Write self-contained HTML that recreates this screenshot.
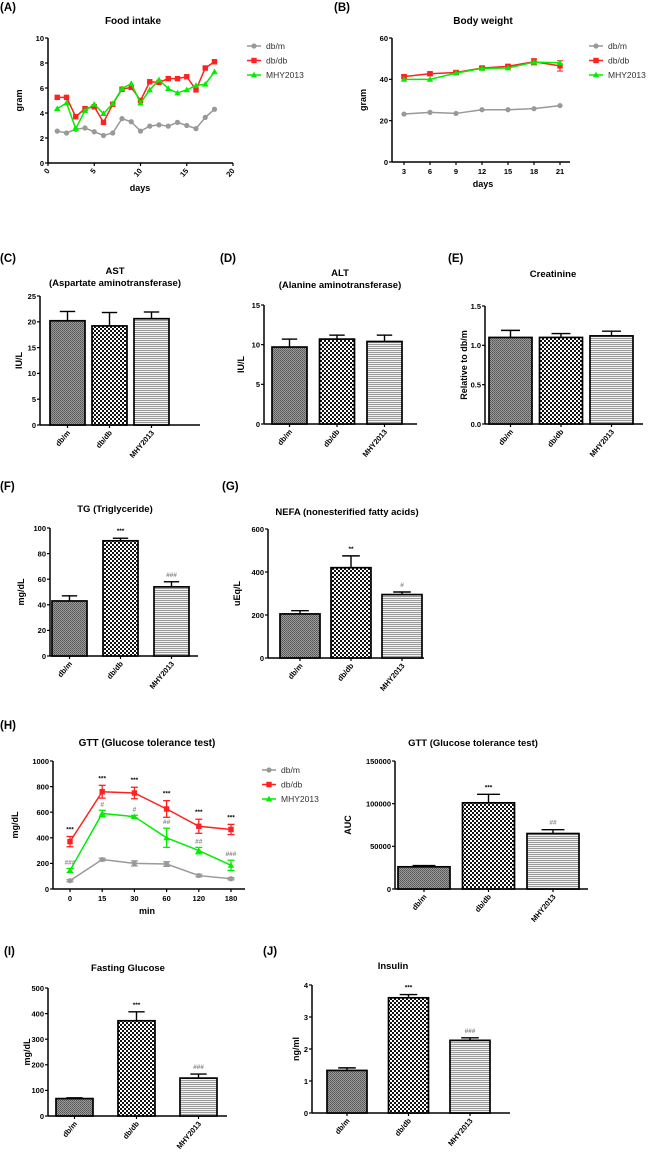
<!DOCTYPE html>
<html><head><meta charset="utf-8">
<style>
html,body{margin:0;padding:0;background:#fff;}
svg{display:block;font-family:"Liberation Sans",Arial,sans-serif;font-weight:bold;}
</style></head>
<body>
<svg id="fig" width="650" height="1160" viewBox="0 0 650 1160" xmlns="http://www.w3.org/2000/svg">
<defs>
<pattern id="pDbm" width="2" height="2" patternUnits="userSpaceOnUse"><rect width="2" height="2" fill="#9a9a9a"/><rect width="1" height="1" fill="#555"/><rect x="1" y="1" width="1" height="1" fill="#666"/></pattern>
<pattern id="pDbdb" width="4" height="4" patternUnits="userSpaceOnUse"><rect width="4" height="4" fill="#fff"/><rect width="2" height="2" fill="#111"/><rect x="2" y="2" width="2" height="2" fill="#111"/></pattern>
<pattern id="pMhy" width="3" height="2" patternUnits="userSpaceOnUse"><rect width="3" height="2" fill="#f2f2f2"/><rect width="3" height="1" fill="#9a9a9a"/></pattern>
</defs>
</svg>
<script>
// ---------- data ----------
const groups = ['db/m','db/db','MHY2013'];
const foodDays = [1,2,3,4,5,6,7,8,9,10,11,12,13,14,15,16,17,18];
const foodDbm = [2.55,2.4,2.7,2.8,2.5,2.2,2.4,3.55,3.3,2.55,2.95,3.05,2.95,3.25,3.0,2.75,3.65,4.3];
const foodDbdb = [5.25,5.25,3.7,4.35,4.5,3.25,4.7,5.9,6.05,5.0,6.5,6.45,6.75,6.75,6.9,5.85,7.6,8.1];
const foodMhy = [4.35,4.8,2.75,4.2,4.7,3.95,4.75,5.95,6.35,4.8,5.85,6.65,5.95,5.6,5.85,6.2,6.3,7.3];
const foodXTicks = [0,5,10,15,20];
const foodYTicks = [0,2,4,6,8,10];
const bwDays = ['3','6','9','12','15','18','21'];
const bwDbm = [23.2,24,23.5,25.3,25.3,25.8,27.3];
const bwDbdb = [41.3,42.7,43.3,45.5,46.3,48.5,46.5];
const bwDbdbErr = [0.8,0.8,0.8,0.8,0.8,1.5,2.5];
const bwMhy = [40,40,43,45.3,45.5,48.3,48];
const bwYTicks = [0,20,40,60];
const astVals = [20.2,19.2,20.6], astErr = [1.8,2.6,1.3], astTicks = [0,5,10,15,20,25];
const altVals = [9.7,10.7,10.4], altErr = [1.0,0.5,0.8], altTicks = [0,5,10,15];
const creVals = [1.1,1.1,1.12], creErr = [0.09,0.05,0.06], creTicks = [0,0.5,1.0,1.5];
const tgVals = [43,90,54], tgErr = [4,2,4], tgTicks = [0,20,40,60,80,100], tgMarks = ['','***','###'];
const nefaVals = [205,420,295], nefaErr = [15,55,12], nefaTicks = [0,200,400,600], nefaMarks = ['','**','#'];
const gttMin = ['0','15','30','60','120','180'];
const gttDbm = [65,230,200,195,105,80], gttDbmErr = [8,10,20,18,10,8];
const gttDbdb = [370,760,750,625,490,465], gttDbdbErr = [40,50,45,65,55,40];
const gttMhy = [145,590,565,400,300,185], gttMhyErr = [15,25,10,75,25,40];
const gttStars = ['***','***','***','***','***','***'];
const gttHash = ['###','#','#','##','##','###'];
const gttYTicks = [0,200,400,600,800,1000];
const aucVals = [26000,101000,65000], aucErr = [1500,10000,4500], aucTicks = [0,50000,100000,150000], aucMarks = ['','***','##'];
const fgVals = [68,372,148], fgErr = [3,35,16], fgTicks = [0,100,200,300,400,500], fgMarks = ['','***','###'];
const insVals = [1.33,3.6,2.27], insErr = [0.08,0.1,0.08], insTicks = [0,1,2,3,4], insMarks = ['','***','###'];

// ---------- helpers ----------
const NS='http://www.w3.org/2000/svg';
const svg=document.getElementById('fig');
function el(tag,attrs,parent,txt){const e=document.createElementNS(NS,tag);for(const k in attrs)e.setAttribute(k,attrs[k]);if(txt!==undefined)e.textContent=txt;(parent||svg).appendChild(e);return e;}
function txt(x,y,s,size,parent,anchor,fill){return el('text',{x:x,y:y,'font-size':size,'text-anchor':anchor||'middle',fill:fill||'#000'},parent,s);}
function yAxis(g,ax,y0,yT,ticks,max,label,labelX,dec){
  const sy=v=>y0-(v/max)*(y0-yT);
  const a=el('line',{x1:ax,y1:y0,x2:ax,y2:yT,stroke:'#000','stroke-width':1.5},g);
  
  ticks.forEach(t=>{el('line',{x1:ax-3,y1:sy(t),x2:ax,y2:sy(t),stroke:'#000','stroke-width':1.2},g);
    const tl=txt(ax-4,sy(t)+2.8,dec?t.toFixed(dec):String(t),7.5,g,'end');});
  const yl=el('text',{x:labelX,y:(y0+yT)/2,'font-size':9,'text-anchor':'middle',transform:`rotate(-90 ${labelX} ${(y0+yT)/2})`},g,label);
  
  return sy;
}
const fills=['url(#pDbm)','url(#pDbdb)','url(#pMhy)'];
function barChart(o){
  const g=el('g',{},svg);
  const sy=yAxis(g,o.ax,o.y0,o.yT,o.ticks,o.max,o.ylabel,o.ylx,o.dec);
  const xa=el('line',{x1:o.ax,y1:o.y0,x2:o.xEnd,y2:o.y0,stroke:'#000','stroke-width':1.5},g);
  
  o.title.forEach((t,i)=>{const tt=txt(o.tx,o.ty+i*12,t,9.5,g);});
  o.vals.forEach((v,i)=>{
    const x=o.x0+i*o.step, cx=x+o.w/2, yv=sy(v), ye=sy(v+o.err[i]);
    el('line',{x1:cx,y1:yv,x2:cx,y2:ye,stroke:'#000','stroke-width':1.4},g);
    el('line',{x1:cx-o.w*0.22,y1:ye,x2:cx+o.w*0.22,y2:ye,stroke:'#000','stroke-width':1.4},g);
    const b=el('rect',{x:x,y:yv,width:o.w,height:o.y0-yv,fill:fills[i],stroke:'#000','stroke-width':1.7},g);
    
    
    el('line',{x1:cx,y1:o.y0,x2:cx,y2:o.y0+3,stroke:'#000','stroke-width':1.2},g);
    const lx=cx+3, ly=o.y0+8;
    const l=el('text',{x:lx,y:ly,'font-size':7.5,'text-anchor':'end',transform:`rotate(-50 ${lx} ${ly})`},g,groups[i]);
    
    if(o.marks&&o.marks[i]){const m=txt(cx,ye-5,o.marks[i],6.5,g,'middle',o.marks[i][0]==='#'?'#888':'#000');
      }
  });
}
function marker(g,type,x,y,color){
  if(type==='c') return el('circle',{cx:x,cy:y,r:2.6,fill:color},g);
  if(type==='s') return el('rect',{x:x-2.7,y:y-2.7,width:5.4,height:5.4,fill:color},g);
  return el('polygon',{points:`${x},${y-3.2} ${x-3.2},${y+2.4} ${x+3.2},${y+2.4}`,fill:color},g);
}
const series=[{c:'#999999',m:'c'},{c:'#ff2020',m:'s'},{c:'#00ee00',m:'t'}];
function legend(g,x,y,dy){
  groups.forEach((n,i)=>{const lg=el('g',{},g);
    el('line',{x1:x,y1:y+i*dy,x2:x+14,y2:y+i*dy,stroke:series[i].c,'stroke-width':1.5},lg);
    marker(lg,series[i].m,x+7,y+i*dy,series[i].c);
    el('text',{x:x+19,y:y+i*dy+3.2,'font-size':8.5,'font-weight':'normal',fill:'#333'},lg,n);});
}
function line(g,pts,color,type,name){
  const p=el('polyline',{points:pts.map(q=>q.join(',')).join(' '),fill:'none',stroke:color,'stroke-width':1.5},g);
  
  pts.forEach(q=>{const m=marker(g,type,q[0],q[1],color);});
}
function panel(x,y,s){const t=txt(x,y,s,11.5,svg,'start');}

// ---------- panel labels ----------
panel(0,11,'(A)');panel(334,11,'(B)');panel(0,262,'(C)');panel(220,262,'(D)');panel(448,262,'(E)');
panel(0,490,'(F)');panel(222,490,'(G)');panel(0,729,'(H)');panel(4,955,'(I)');panel(263,955,'(J)');

// ---------- A: food intake ----------
(function(){
  const g=el('g',{},svg);
  const ax=48,y0=163,yT=38,xR=233;
  const sx=v=>ax+v/20*(xR-ax);
  const sy=yAxis(g,ax,y0,yT,foodYTicks,10,'gram',22);
  el('line',{x1:ax,y1:y0,x2:xR,y2:y0,stroke:'#000','stroke-width':1.5},g);
  foodXTicks.forEach(t=>{el('line',{x1:sx(t),y1:y0,x2:sx(t),y2:y0+3,stroke:'#000','stroke-width':1.2},g);
    const lx=sx(t)+2,ly=y0+8;const l=el('text',{x:lx,y:ly,'font-size':7.5,'text-anchor':'end',transform:`rotate(-50 ${lx} ${ly})`},g,String(t));
    });
  txt(140,191,'days',9,g);
  txt(133,24,'Food intake',10,g);
  [foodDbm,foodDbdb,foodMhy].forEach((arr,i)=>line(g,arr.map((v,j)=>[sx(foodDays[j]),sy(v)]),series[i].c,series[i].m,'line-'+groups[i].toLowerCase().replace('/','-')));
  legend(g,247,46,14.5);
})();

// ---------- B: body weight ----------
(function(){
  const g=el('g',{},svg);
  const ax=392,y0=162,yT=38,x0=404,step=26;
  const sx=i=>x0+i*step;
  const sy=yAxis(g,ax,y0,yT,bwYTicks,60,'gram',366);
  el('line',{x1:ax,y1:y0,x2:570,y2:y0,stroke:'#000','stroke-width':1.5},g);
  bwDays.forEach((d,i)=>{el('line',{x1:sx(i),y1:y0,x2:sx(i),y2:y0+3,stroke:'#000','stroke-width':1.2},g);
    const l=txt(sx(i),y0+12,d,7.5,g);});
  txt(483,187,'days',9,g);
  txt(483,24,'Body weight',10,g);
  bwDbdb.forEach((v,i)=>{el('line',{x1:sx(i),y1:sy(v-bwDbdbErr[i]),x2:sx(i),y2:sy(v+bwDbdbErr[i]),stroke:'#ff2020','stroke-width':1.2},g);
    el('line',{x1:sx(i)-3,y1:sy(v-bwDbdbErr[i]),x2:sx(i)+3,y2:sy(v-bwDbdbErr[i]),stroke:'#ff2020'},g);
    el('line',{x1:sx(i)-3,y1:sy(v+bwDbdbErr[i]),x2:sx(i)+3,y2:sy(v+bwDbdbErr[i]),stroke:'#ff2020'},g);});
  [bwDbm,bwDbdb,bwMhy].forEach((arr,i)=>line(g,arr.map((v,j)=>[sx(j),sy(v)]),series[i].c,series[i].m,'line-'+groups[i].toLowerCase().replace('/','-')));
  legend(g,589,46,14.5);
})();

// ---------- C, D, E ----------
barChart({name:'ast-chart',ax:40,y0:425,yT:296,ticks:astTicks,max:25,ylabel:'IU/L',ylx:22,xEnd:200,title:['AST','(Aspartate aminotransferase)'],tx:115,ty:274,vals:astVals,err:astErr,x0:50,step:42,w:35});
barChart({name:'alt-chart',ax:264,y0:424,yT:305,ticks:altTicks,max:15,ylabel:'IU/L',ylx:244,xEnd:417,title:['ALT','(Alanine aminotransferase)'],tx:340,ty:276,vals:altVals,err:altErr,x0:272,step:47.5,w:35});
barChart({name:'creatinine-chart',ax:485,y0:424,yT:306,ticks:creTicks,max:1.5,dec:1,ylabel:'Relative to db/m',ylx:467,xEnd:643,title:['Creatinine'],tx:553,ty:277,vals:creVals,err:creErr,x0:489,step:50.5,w:43});

// ---------- F, G ----------
barChart({name:'tg-chart',ax:50,y0:656,yT:528,ticks:tgTicks,max:100,ylabel:'mg/dL',ylx:24,xEnd:198,title:['TG (Triglyceride)'],tx:115,ty:512,vals:tgVals,err:tgErr,marks:tgMarks,x0:52,step:51,w:35});
barChart({name:'nefa-chart',ax:268,y0:658,yT:529,ticks:nefaTicks,max:600,ylabel:'uEq/L',ylx:240,xEnd:424,title:['NEFA (nonesterified fatty acids)'],tx:347,ty:515,vals:nefaVals,err:nefaErr,marks:nefaMarks,x0:280,step:51,w:40});

// ---------- H: GTT line ----------
(function(){
  const g=el('g',{},svg);
  const ax=53,y0=889,yT=761,x0=70,step=32.2;
  const sx=i=>x0+i*step;
  const sy=yAxis(g,ax,y0,yT,gttYTicks,1000,'mg/dL',18);
  el('line',{x1:ax,y1:y0,x2:245,y2:y0,stroke:'#000','stroke-width':1.5},g);
  gttMin.forEach((d,i)=>{el('line',{x1:sx(i),y1:y0,x2:sx(i),y2:y0+3,stroke:'#000','stroke-width':1.2},g);
    const l=txt(sx(i),y0+12,d,7.5,g);});
  txt(147,914,'min',9,g);
  txt(147,746,'GTT (Glucose tolerance test)',10,g);
  const all=[[gttDbm,gttDbmErr],[gttDbdb,gttDbdbErr],[gttMhy,gttMhyErr]];
  all.forEach(([v,e],k)=>v.forEach((y,i)=>{const c=series[k].c;
    el('line',{x1:sx(i),y1:sy(y-e[i]),x2:sx(i),y2:sy(y+e[i]),stroke:c,'stroke-width':1.3},g);
    [y-e[i],y+e[i]].forEach(q=>el('line',{x1:sx(i)-3.5,y1:sy(q),x2:sx(i)+3.5,y2:sy(q),stroke:c,'stroke-width':1.3},g));}));
  all.forEach(([v],k)=>line(g,v.map((y,i)=>[sx(i),sy(y)]),series[k].c,series[k].m,'line-'+groups[k].toLowerCase().replace('/','-')));
  gttStars.forEach((s,i)=>{const m=txt(sx(i),sy(gttDbdb[i]+gttDbdbErr[i])-5,s,6.5,g);});
  gttHash.forEach((s,i)=>{const m=txt(sx(i),sy(gttMhy[i]+gttMhyErr[i])-4,s,6.5,g,'middle','#888');});
  legend(g,262,770,14.5);
})();

// ---------- H: AUC ----------
barChart({name:'gtt-auc-chart',ax:395,y0:889,yT:761,ticks:aucTicks,max:150000,ylabel:'AUC',ylx:351,xEnd:588,title:['GTT (Glucose tolerance test)'],tx:473,ty:746,vals:aucVals,err:aucErr,marks:aucMarks,x0:398,step:64.5,w:52});

// ---------- I, J ----------
barChart({name:'fasting-glucose-chart',ax:48,y0:1116,yT:988,ticks:fgTicks,max:500,ylabel:'mg/dL',ylx:30,xEnd:227,title:['Fasting Glucose'],tx:128,ty:971,vals:fgVals,err:fgErr,marks:fgMarks,x0:56,step:62,w:37});
barChart({name:'insulin-chart',ax:312,y0:1113,yT:985,ticks:insTicks,max:4,ylabel:'ng/ml',ylx:299,xEnd:510,title:['Insulin'],tx:393,ty:969,vals:insVals,err:insErr,marks:insMarks,x0:327,step:61.5,w:40});
</script>
</body></html>
